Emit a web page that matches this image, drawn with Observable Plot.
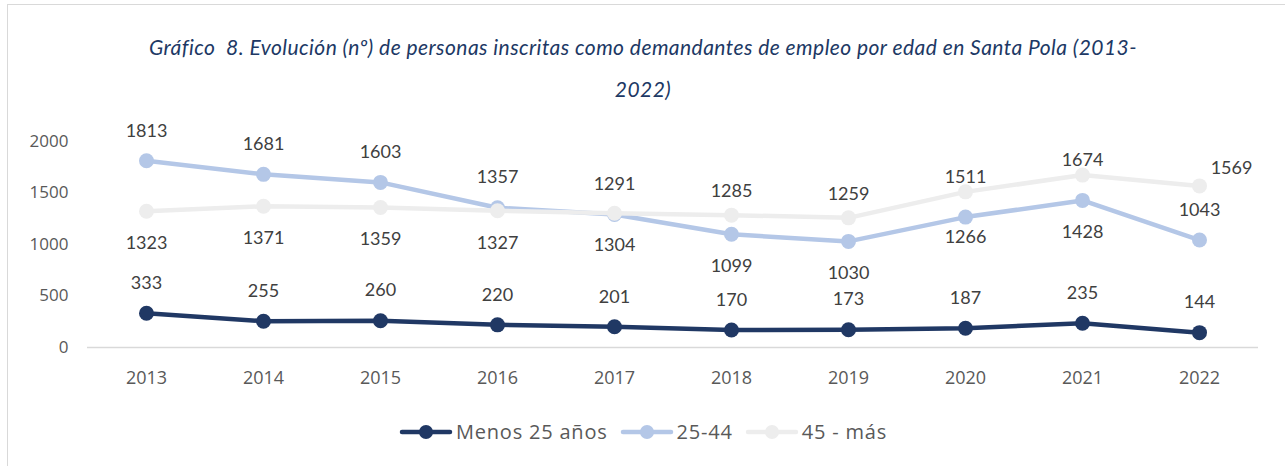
<!DOCTYPE html>
<html>
<head>
<meta charset="utf-8">
<script src="https://cdn.jsdelivr.net/npm/d3@7"></script>
<script src="https://cdn.jsdelivr.net/npm/@observablehq/plot@0.6"></script>
<style>
  html, body { margin: 0; padding: 0; background: #fff; }
  #wrap { position: relative; width: 1286px; height: 466px; overflow: hidden; background: #fff; }
  #borderTop { position: absolute; left: 7px; top: 4px; width: 1278px; height: 1px; background: #d9d9d9; }
  #borderLeft { position: absolute; left: 7px; top: 4px; width: 1px; height: 470px; background: #d9d9d9; }
  #title { position: absolute; left: 0; top: 26px; width: 1286px; text-align: center;
           font-family: Lato, sans-serif; font-style: italic; font-size: 21px; letter-spacing: 0.45px;
           line-height: 42px; color: #203864; }
  #chart { position: absolute; left: 0; top: 120px; }
  #legend { position: absolute; left: 0; top: 418px; width: 1286px; display: flex; justify-content: center;
            font-family: "Open Sans", sans-serif; font-size: 20px; letter-spacing: 0.8px; color: #595959; }
  .item { display: flex; align-items: center; margin: 0 6px; }
  .item svg { margin-right: 3px; }
</style>
</head>
<body>
<div id="wrap">
  <div id="borderTop"></div>
  <div id="borderLeft"></div>
  <div id="title">Gráfico&nbsp; 8. Evolución (nº) de personas inscritas como demandantes de empleo por edad en Santa Pola (2013-<br>2022)</div>
  <div id="chart"></div>
  <div id="legend"></div>
</div>
<script>
const years = ["2013","2014","2015","2016","2017","2018","2019","2020","2021","2022"];
const seriesNames = ["Menos 25 años", "25-44", "45 - más"];
const menos25 = [333, 255, 260, 220, 201, 170, 173, 187, 235, 144];
const de25a44 = [1813, 1681, 1603, 1357, 1291, 1099, 1030, 1266, 1428, 1043];
const de45mas = [1323, 1371, 1359, 1327, 1304, 1285, 1259, 1511, 1674, 1569];
const yTicks = [0, 500, 1000, 1500, 2000];
const colors = ["#203864", "#b4c7e7", "#ededed"];

// label placement keywords per point
const place25 = ["above","above","above","above","above","above","above","above","above","above"];
const place2544 = ["above","above","above","above","above","below","below","nearBelow","below","above"];
const place45 = ["below","below","below","below","below","nearAbove","nearAbove","hugAbove","hugAbove","right"];
const offsets = {
  above: [0, -30], below: [0, 32], nearBelow: [0, 20],
  nearAbove: [0, -24], hugAbove: [0, -15], right: [32, -18]
};

const valuesBySeries = [menos25, de25a44, de45mas];
const placesBySeries = [place25, place2544, place45];
const data = [];
seriesNames.forEach((s, si) => {
  years.forEach((y, i) => {
    data.push({series: s, year: y, value: valuesBySeries[si][i], place: placesBySeries[si][i], si});
  });
});

const labelMarks = Object.entries(offsets).map(([k, [dx, dy]]) =>
  Plot.text(data.filter(d => d.place === k), {
    x: "year", y: "value", text: d => String(d.value), dx, dy,
    fill: "#404040", fontSize: 18, fontFamily: "Lato, sans-serif"
  })
);

const seriesMarks = [];
seriesNames.forEach((s, si) => {
  const sub = data.filter(d => d.series === s);
  seriesMarks.push(Plot.line(sub, {x: "year", y: "value", stroke: colors[si], strokeWidth: 4.5, curve: "linear"}));
  seriesMarks.push(Plot.dot(sub, {x: "year", y: "value", fill: colors[si], r: 7.5}));
});

const plot = Plot.plot({
  width: 1286,
  height: 280,
  marginLeft: 87,
  marginRight: 28,
  marginTop: 21,
  marginBottom: 53,
  style: {fontFamily: "'Open Sans', sans-serif", fontSize: "17px", color: "#595959", background: "transparent"},
  x: {type: "point", domain: years, padding: 0.5, align: 0.5, label: null},
  y: {domain: [0, 2000], label: null},
  marks: [
    Plot.ruleY([0], {stroke: "#d9d9d9", strokeWidth: 1.5}),
    Plot.axisY({ticks: yTicks, tickFormat: d => String(d), tickSize: 0, tickPadding: 19, label: null, fontSize: 17}),
    Plot.axisX({tickSize: 0, tickPadding: 24, label: null, fontSize: 18}),
    ...seriesMarks,
    ...labelMarks
  ]
});
document.getElementById("chart").appendChild(plot);

const legend = document.getElementById("legend");
seriesNames.forEach((s, si) => {
  const item = document.createElement("div");
  item.className = "item";
  item.innerHTML = `<svg width="54" height="20"><line x1="3" y1="10" x2="51" y2="10" stroke="${colors[si]}" stroke-width="4.5" stroke-linecap="round"/><circle cx="27" cy="10" r="7" fill="${colors[si]}"/></svg><span>${s}</span>`;
  legend.appendChild(item);
});
</script>
</body>
</html>
